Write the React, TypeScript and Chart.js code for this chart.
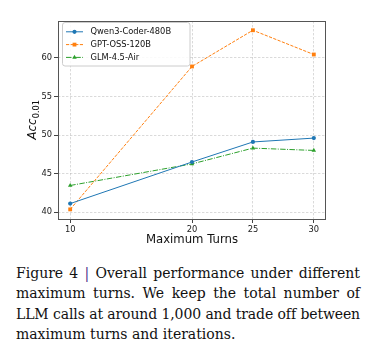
import React, { useEffect, useRef } from 'react';
import { Chart, registerables } from 'chart.js';

Chart.register(...registerables);

// ---------- data ----------
const maxTurns = [10, 20, 25, 30];
const qwenAcc = [41.1, 46.5, 49.1, 49.6];
const gptAcc = [40.35, 58.9, 63.6, 60.45];
const glmAcc = [43.45, 46.25, 48.3, 48.0];
const seriesNames = ['Qwen3-Coder-480B', 'GPT-OSS-120B', 'GLM-4.5-Air'];
const xTickValues = [10, 20, 25, 30];
const yTickValues = [40, 45, 50, 55, 60];
const xLabel = 'Maximum Turns';
const yLabelMain = 'Acc';
const yLabelSub = '0.01';
const captionLines = [
  'Overall performance under different',
  'maximum turns.  We keep the total number of',
  'LLM calls at around 1,000 and trade off between',
  'maximum turns and iterations.',
];

// ---------- styles ----------
const colors = ['#1f77b4', '#ff7f0e', '#2ca02c'];
const dashes: number[][] = [[], [3.2, 1.4], [5.5, 1.4, 1, 1.4]];
const pointStyles = ['circle', 'rect', 'triangle'];
const pointRadii = [2.1, 2.7, 2.6];
const SANS = '"DejaVu Sans", sans-serif';

function drawMarker(ctx: CanvasRenderingContext2D, style: string, x: number, y: number, r: number, color: string) {
  ctx.save();
  ctx.fillStyle = color;
  ctx.beginPath();
  if (style === 'circle') {
    ctx.arc(x, y, r, 0, Math.PI * 2);
  } else if (style === 'rect') {
    const s = r * Math.SQRT1_2;
    ctx.rect(x - s, y - s, 2 * s, 2 * s);
  } else {
    const h = r * 1.5;
    ctx.moveTo(x, y - r);
    ctx.lineTo(x + h / Math.sqrt(3) * 1.0, y + r / 2);
    ctx.lineTo(x - h / Math.sqrt(3) * 1.0, y + r / 2);
    ctx.closePath();
  }
  ctx.fill();
  ctx.restore();
}

const decorPlugin = {
  id: 'mplDecor',
  afterDraw(chart: any) {
    const ctx: CanvasRenderingContext2D = chart.ctx;
    const a = chart.chartArea;
    ctx.save();
    // frame
    ctx.strokeStyle = '#555';
    ctx.lineWidth = 1;
    ctx.setLineDash([]);
    ctx.strokeRect(Math.round(a.left) + 0.5, Math.round(a.top) + 0.5, Math.round(a.right - a.left) - 1, Math.round(a.bottom - a.top));

    // x label
    ctx.fillStyle = '#111';
    ctx.font = `11.7px ${SANS}`;
    ctx.textAlign = 'center';
    ctx.textBaseline = 'middle';
    ctx.fillText(xLabel, (a.left + a.right) / 2, 239.5);

    // y label (mathtext style)
    ctx.save();
    ctx.translate(36, (a.top + a.bottom) / 2);
    ctx.rotate(-Math.PI / 2);
    ctx.textAlign = 'left';
    ctx.textBaseline = 'alphabetic';
    const mainFont = `italic 11.7px ${SANS}`;
    const subFont = `8.2px ${SANS}`;
    ctx.font = mainFont;
    const wMain = ctx.measureText(yLabelMain).width;
    ctx.font = subFont;
    const wSub = ctx.measureText(yLabelSub).width;
    const start = -(wMain + wSub) / 2;
    ctx.font = mainFont;
    ctx.fillText(yLabelMain, start, 0);
    ctx.font = subFont;
    ctx.fillText(yLabelSub, start + wMain + 0.5, 2.6);
    ctx.restore();

    // legend
    const lx = 62.5, ly = 22.5, lw = 127.5, lh = 43.5;
    ctx.fillStyle = 'rgba(255,255,255,0.85)';
    ctx.strokeStyle = '#cccccc';
    ctx.lineWidth = 1;
    ctx.beginPath();
    (ctx as any).roundRect(lx, ly, lw, lh, 2.5);
    ctx.fill();
    ctx.stroke();
    const rows = [31.8, 44.6, 57.4];
    ctx.font = `8.3px ${SANS}`;
    ctx.textAlign = 'left';
    ctx.textBaseline = 'middle';
    seriesNames.forEach((name, i) => {
      const y = rows[i];
      ctx.strokeStyle = colors[i];
      ctx.lineWidth = 1;
      ctx.setLineDash(dashes[i]);
      ctx.beginPath();
      ctx.moveTo(66, y);
      ctx.lineTo(83, y);
      ctx.stroke();
      ctx.setLineDash([]);
      drawMarker(ctx, pointStyles[i], 74.5, y, pointRadii[i], colors[i]);
      ctx.fillStyle = '#111';
      ctx.fillText(name, 90.5, y + 0.5);
    });
    ctx.restore();
  },
};

function ChartView() {
  const ref = useRef<HTMLCanvasElement | null>(null);
  useEffect(() => {
    if (!ref.current) return;
    const allSeries = [qwenAcc, gptAcc, glmAcc];
    const chart = new Chart(ref.current, {
      type: 'line',
      data: {
        datasets: allSeries.map((vals, i) => ({
          label: seriesNames[i],
          data: maxTurns.map((t, j) => ({ x: t, y: vals[j] })),
          borderColor: colors[i],
          backgroundColor: colors[i],
          borderWidth: 1,
          borderDash: dashes[i],
          pointStyle: pointStyles[i] as any,
          pointRadius: pointRadii[i],
          pointBorderWidth: 0,
          pointBackgroundColor: colors[i],
          tension: 0,
          fill: false,
        })),
      },
      options: {
        animation: false,
        responsive: false,
        maintainAspectRatio: false,
        layout: { padding: { left: 0, right: 49, top: 21, bottom: 0 } },
        plugins: { legend: { display: false }, tooltip: { enabled: false } },
        scales: {
          x: {
            type: 'linear',
            min: 9,
            max: 31,
            afterBuildTicks: (s: any) => {
              s.ticks = xTickValues.map((v) => ({ value: v }));
            },
            afterFit: (s: any) => {
              s.height = 31;
            },
            grid: {
              color: 'rgba(170,170,170,0.55)',
              lineWidth: 0.8,
              tickLength: 4,
              tickColor: '#444',
              tickWidth: 1,
            },
            border: { display: false, dash: [2.4, 1.6] },
            ticks: {
              font: { family: SANS, size: 8.3 },
              color: '#222',
              padding: 1.5,
              maxRotation: 0,
              autoSkip: false,
              callback: (v: any) => String(v),
            },
          },
          y: {
            type: 'linear',
            min: 39.1,
            max: 64.8,
            afterBuildTicks: (s: any) => {
              s.ticks = yTickValues.map((v) => ({ value: v }));
            },
            afterFit: (s: any) => {
              s.width = 58;
            },
            grid: {
              color: 'rgba(170,170,170,0.55)',
              lineWidth: 0.8,
              tickLength: 4,
              tickColor: '#444',
              tickWidth: 1,
            },
            border: { display: false, dash: [2.4, 1.6] },
            ticks: {
              font: { family: SANS, size: 8.3 },
              color: '#222',
              padding: 2,
              autoSkip: false,
              callback: (v: any) => String(v),
            },
          },
        },
      },
      plugins: [decorPlugin],
    });
    return () => chart.destroy();
  }, []);
  return <canvas ref={ref} width={375} height={250} style={{ display: 'block', width: 375, height: 250 }} />;
}

export default function App() {
  const lineStyle: React.CSSProperties = {
    textAlign: 'justify',
    textAlignLast: 'justify' as any,
    whiteSpace: 'normal',
  };
  return (
    <div style={{ position: 'absolute', left: 0, top: 0, width: 375, height: 357, background: '#fff', overflow: 'hidden' }}>
      <ChartView />
      <div
        style={{
          position: 'absolute',
          left: 16,
          top: 263,
          width: 344,
          fontFamily: '"DejaVu Serif", serif',
          fontSize: 14,
          lineHeight: '20.3px',
          color: '#111',
        }}
      >
        <div style={lineStyle}>
          Figure 4 <span style={{ color: '#4a2c8a' }}>|</span> {captionLines[0]}
        </div>
        <div style={lineStyle}>{captionLines[1]}</div>
        <div style={{ ...lineStyle, letterSpacing: '-0.12px' }}>{captionLines[2]}</div>
        <div>{captionLines[3]}</div>
      </div>
    </div>
  );
}
